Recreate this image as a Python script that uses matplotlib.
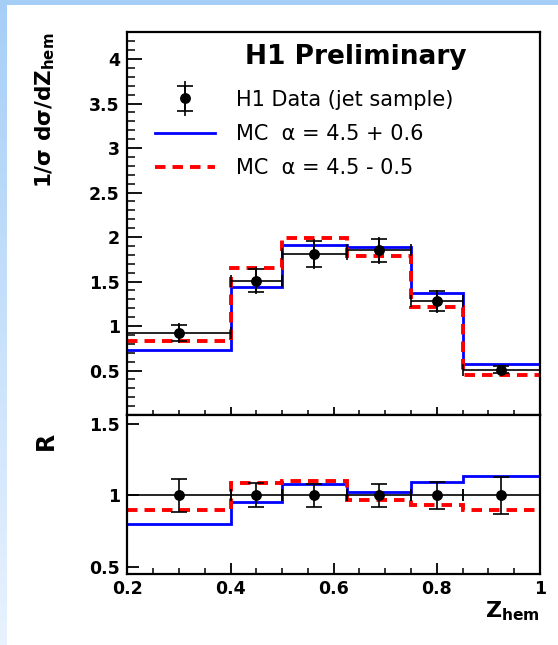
import numpy as np
import matplotlib
matplotlib.use("Agg")
import matplotlib.pyplot as plt
from matplotlib.ticker import MultipleLocator, FuncFormatter
from matplotlib.legend_handler import HandlerErrorbar, HandlerTuple

plt.rcParams['font.family'] = ['DejaVu Sans']
plt.rcParams['mathtext.fontset'] = 'dejavusans'

# bins in z_hem
edges = np.array([0.2, 0.4, 0.5, 0.625, 0.75, 0.85, 1.0])
centers = np.array([0.3, 0.45, 0.5625, 0.6875, 0.8, 0.925])

# normalised cross section
data = np.array([0.92, 1.51, 1.81, 1.85, 1.28, 0.51])
stat_err = np.array([0.09, 0.13, 0.15, 0.13, 0.11, 0.04])
tot_err = np.array([0.11, 0.15, 0.17, 0.15, 0.13, 0.05])
mc_up = np.array([0.73, 1.44, 1.91, 1.89, 1.37, 0.57])
mc_down = np.array([0.83, 1.65, 1.99, 1.79, 1.21, 0.45])

# ratio panel
ratio_data = np.array([1.0, 1.0, 1.0, 1.0, 1.0, 1.0])
ratio_err = np.array([0.115, 0.085, 0.08, 0.08, 0.095, 0.13])
ratio_up = np.array([0.80, 0.95, 1.075, 1.02, 1.09, 1.135])
ratio_down = np.array([0.90, 1.085, 1.10, 0.97, 0.93, 0.90])

labels = ["H1 Data (jet sample)", "MC  α = 4.5 + 0.6", "MC  α = 4.5 - 0.5"]

xerr = np.vstack([centers - edges[:-1], edges[1:] - centers])

W, H = 558, 645
fig = plt.figure(figsize=(W / 100, H / 100), dpi=100)
fig.patch.set_facecolor("white")

# light blue frame strips
strip = fig.add_axes([0, 0, 7 / W, 1])
grad = np.linspace(0, 1, 256).reshape(-1, 1)
c_top = np.array([0.65, 0.81, 0.97])
c_bot = np.array([0.91, 0.95, 0.995])
img = c_top + (c_bot - c_top) * grad[:, :, None]
strip.imshow(img, aspect="auto", extent=[0, 1, 0, 1], origin="upper")
strip.axis("off")
top = fig.add_axes([0, 1 - 5 / H, 1, 5 / H])
top.imshow(np.tile(c_top, (1, 10, 1)), aspect="auto", extent=[0, 1, 0, 1])
top.axis("off")

left = 127.4 / W
width = (540 - 127.4) / W
ax1 = fig.add_axes([left, 1 - 415 / H, width, (415 - 32.3) / H])
ax2 = fig.add_axes([left, 1 - 574 / H, width, (574 - 415) / H])

fmt = FuncFormatter(lambda v, p: "%g" % v)
dash = (0, (2.7, 1.8))

# ---- top panel
h_up = ax1.stairs(mc_up, edges, baseline=None, color="#0000ff", lw=2.0)
h_dn = ax1.stairs(mc_down, edges, baseline=None, color="#ff0000", lw=2.8, linestyle=dash)
ax1.errorbar(centers, data, xerr=xerr, fmt="none", ecolor="black", elinewidth=1.2,
             capsize=4, capthick=1.2)
h_tot = ax1.errorbar(centers, data, yerr=tot_err, fmt="o", color="black", ms=6.8,
                     elinewidth=1.2, capsize=0)
h_stat = ax1.errorbar(centers, data, yerr=stat_err, fmt="none", ecolor="black",
                      elinewidth=1.2, capsize=5.5, capthick=1.2)

ax1.set_xlim(0.2, 1.0)
ax1.set_ylim(0, 4.3)
ax1.yaxis.set_major_locator(plt.FixedLocator([0.5, 1, 1.5, 2, 2.5, 3, 3.5, 4]))
ax1.yaxis.set_minor_locator(MultipleLocator(0.1))
ax1.xaxis.set_major_locator(MultipleLocator(0.2))
ax1.xaxis.set_minor_locator(MultipleLocator(0.05))
ax1.yaxis.set_major_formatter(fmt)
ax1.tick_params(axis="y", which="major", direction="in", length=10.5, width=1.3,
                labelsize=12.5, pad=5.5, right=False)
ax1.tick_params(axis="y", which="minor", direction="in", length=5.5, width=1.1, right=False)
ax1.tick_params(axis="x", which="major", direction="in", length=6, width=1.3,
                labelbottom=False, top=False)
ax1.tick_params(axis="x", which="minor", direction="in", length=3.5, width=1.1, top=False)
for t in ax1.get_yticklabels():
    t.set_fontweight("bold")

ax1.set_ylabel("1/σ dσ/dZ$_{\\mathbf{hem}}$", fontsize=15.5, fontweight="bold", loc="top")
ax1.yaxis.set_label_coords(-0.17, 1.0)

ax1.text(0.553, 0.935, "H1 Preliminary", transform=ax1.transAxes, ha="center",
         va="center", fontsize=19, fontweight="bold")

leg = ax1.legend([(h_tot, h_stat), h_up, h_dn], labels, loc="upper left",
                 bbox_to_anchor=(0.067, 0.85), frameon=False, fontsize=15,
                 handlelength=2.9, handletextpad=1.0, labelspacing=0.68,
                 borderaxespad=0, borderpad=0,
                 handler_map={h_tot: HandlerErrorbar(xerr_size=0.3, yerr_size=0.85),
                              h_stat: HandlerErrorbar(xerr_size=0.3, yerr_size=0.6),
                              tuple: HandlerTuple(ndivide=1)})

# ---- ratio panel
ax2.stairs(ratio_up, edges, baseline=None, color="#0000ff", lw=2.0)
ax2.stairs(ratio_down, edges, baseline=None, color="#ff0000", lw=2.8, linestyle=dash)
ax2.errorbar(centers, ratio_data, xerr=xerr, fmt="none", ecolor="black", elinewidth=1.2,
             capsize=4, capthick=1.2)
ax2.errorbar(centers, ratio_data, yerr=ratio_err, fmt="o", color="black", ms=6.8,
             elinewidth=1.2, capsize=5.5, capthick=1.2)

ax2.set_xlim(0.2, 1.0)
ax2.set_ylim(0.45, 1.56)
ax2.yaxis.set_major_locator(plt.FixedLocator([0.5, 1.0, 1.5]))
ax2.xaxis.set_major_locator(MultipleLocator(0.2))
ax2.xaxis.set_minor_locator(MultipleLocator(0.05))
ax2.xaxis.set_major_formatter(fmt)
ax2.yaxis.set_major_formatter(fmt)
ax2.tick_params(axis="y", which="major", direction="in", length=8.5, width=1.3,
                labelsize=12.5, pad=5.5, right=False)
ax2.tick_params(axis="x", which="major", direction="in", length=8, width=1.3,
                labelsize=12.5, pad=4.5, top=False)
ax2.tick_params(axis="x", which="minor", direction="in", length=4.5, width=1.1, top=False)
for t in ax2.get_yticklabels() + ax2.get_xticklabels():
    t.set_fontweight("bold")

ax2.set_ylabel("R", fontsize=17, fontweight="bold")
ax2.yaxis.set_label_coords(-0.168, 0.84)
ax2.set_xlabel("Z$_{\\mathbf{hem}}$", fontsize=16, fontweight="bold", loc="right")
ax2.xaxis.set_label_coords(1.0, -0.16)

for ax in (ax1, ax2):
    for s in ax.spines.values():
        s.set_linewidth(1.6)

fig.savefig("out.png", dpi=100, facecolor="white")
